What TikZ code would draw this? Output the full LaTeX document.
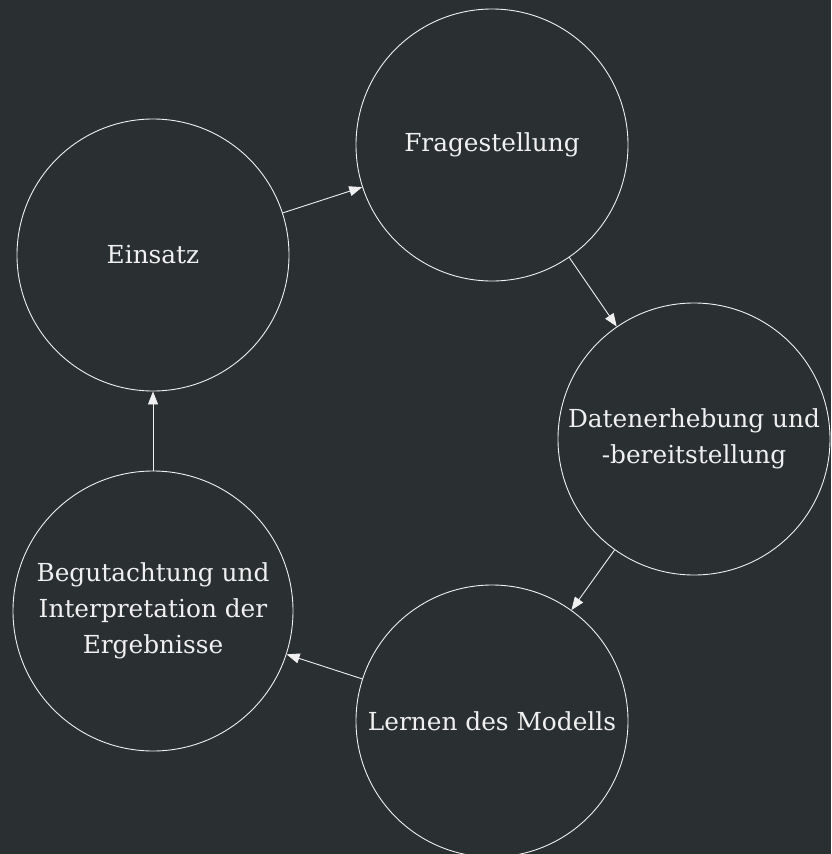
\documentclass[tikz,border=0pt]{standalone}
\usepackage{fontspec}
\setmainfont{DejaVu Serif}
\usetikzlibrary{arrows.meta}
\definecolor{bg}{RGB}{42,47,50}
\definecolor{ink}{RGB}{240,240,240}
\begin{document}
\begin{tikzpicture}[x=1pt,y=-1pt,
  stage/.style={circle,draw=ink,line width=0.9pt,minimum size=272pt,inner sep=0pt,
    align=center,text=ink,font=\fontsize{24.8}{36}\selectfont},
  flow/.style={draw=ink,line width=0.9pt,-{Triangle[length=13pt,width=10pt]}}]
\fill[bg] (0,0) rectangle (831,854);
\useasboundingbox (0,0) rectangle (831,854);
% the five stages of the cycle
\node[stage] (frage) at (492,145) {Fragestellung};
\node[stage] (daten) at (694,439) {Datenerhebung und\\-bereitstellung};
\node[stage] (lernen) at (492,721) {Lernen des Modells};
\node[stage,minimum size=280pt] (begut) at (153,611) {Begutachtung und\\Interpretation der\\Ergebnisse};
\node[stage] (einsatz) at (153,255) {Einsatz};
% arrows between the stages
\draw[flow] (einsatz) -- (frage);
\draw[flow] (frage) -- (daten);
\draw[flow] (daten) -- (lernen);
\draw[flow] (lernen) -- (begut);
\draw[flow] (begut) -- (einsatz);
\end{tikzpicture}
\end{document}
